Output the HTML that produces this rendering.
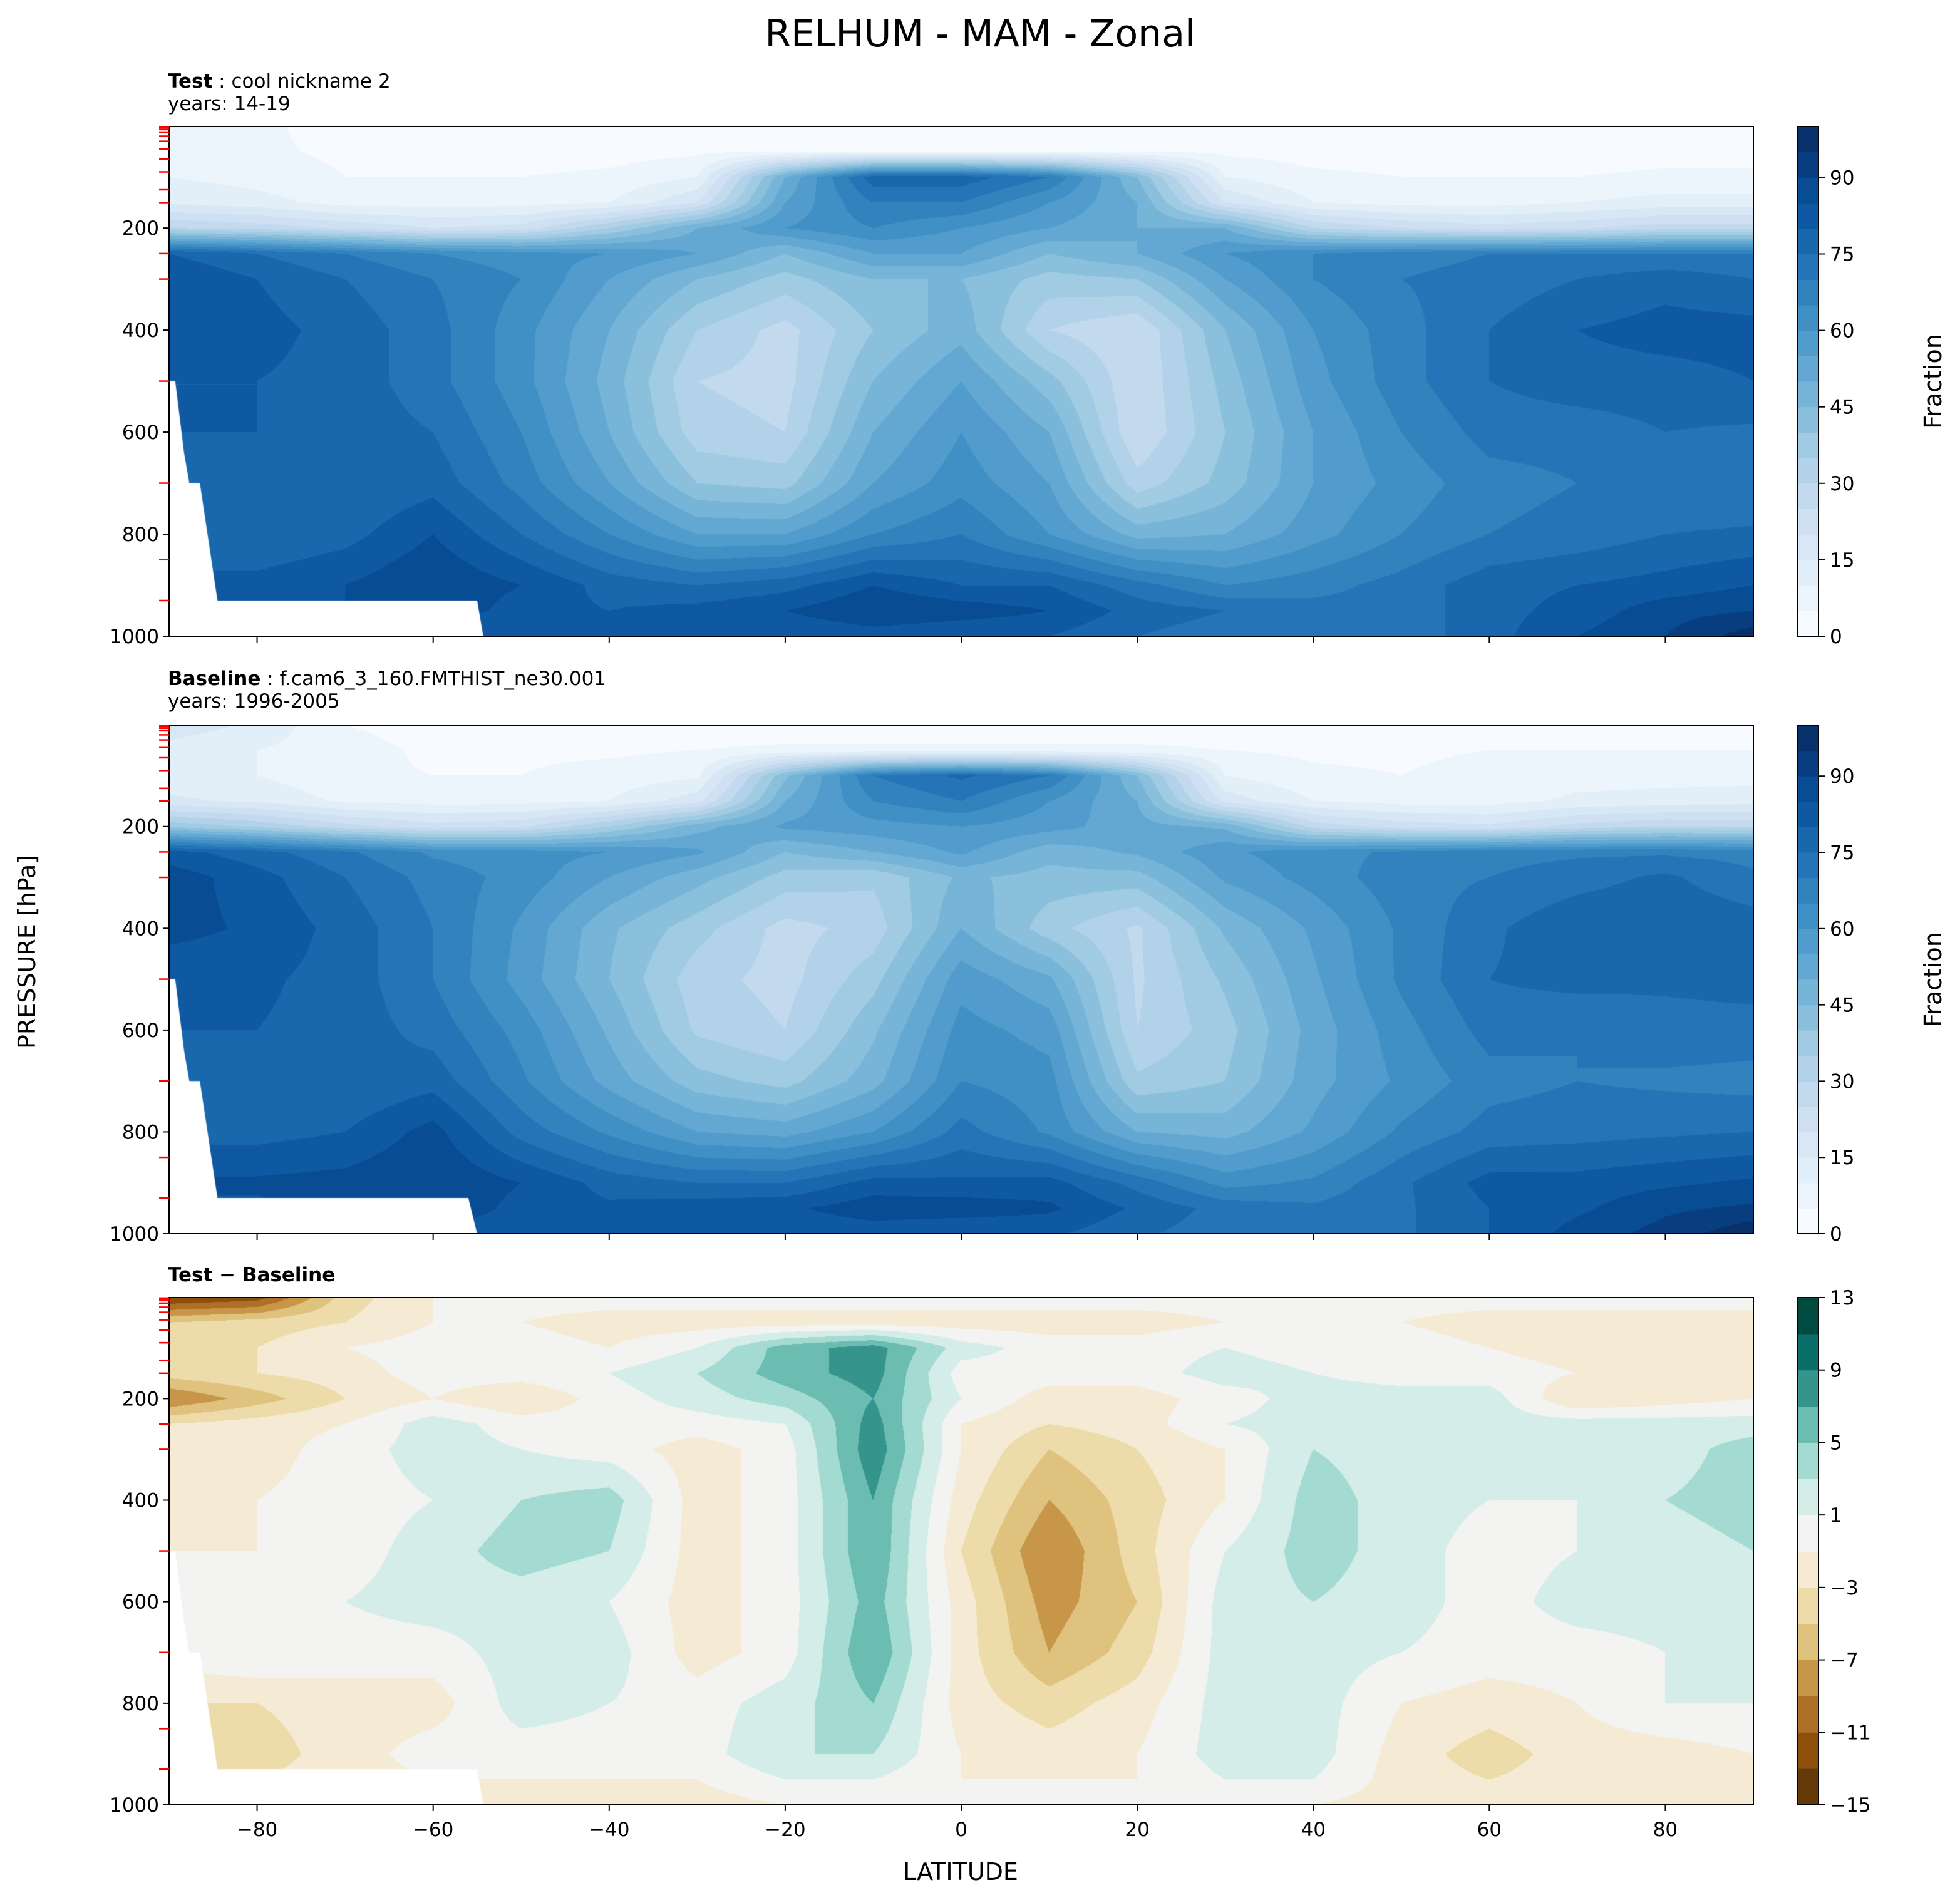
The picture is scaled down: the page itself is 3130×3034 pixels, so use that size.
<!DOCTYPE html>
<html><head><meta charset="utf-8"><style>
body{margin:0;background:#fff;}
#root{position:relative;width:3130px;height:3034px;overflow:hidden;font-family:"DejaVu Sans","Liberation Sans",sans-serif;}
canvas{position:absolute;}
svg{position:absolute;left:0;top:0;font-family:"DejaVu Sans","Liberation Sans",sans-serif;}
</style></head><body>
<div id="root">
<canvas id="c1" width="2530" height="814" style="left:270px;top:202px"></canvas>
<canvas id="c2" width="2530" height="812" style="left:270px;top:1158px"></canvas>
<canvas id="c3" width="2530" height="810" style="left:270px;top:2072px"></canvas>
<svg id="s" width="3130" height="3034"></svg>
</div>
<script>
const lats=[-90,-80,-70,-60,-50,-40,-30,-20,-10,0,10,20,30,40,50,60,70,80,90];
const pres=[1,50,100,150,200,250,300,400,500,600,700,800,900,950,1000];
const testRH=[
[7,6,3,2,2,2,2,2,2,2,2,2,2,2,2,2,2,2,2],
[8,6,4,3,3,3,4,5,5,5,5,5,4,3,3,3,3,3,3],
[10,8,5,5,5,6,10,50,78,78,70,45,10,6,5,5,5,6,6],
[14,12,8,8,8,10,20,55,70,70,60,50,20,10,8,8,10,12,12],
[30,28,24,20,22,35,50,60,65,60,55,50,50,30,25,22,24,28,28],
[80,75,70,65,62,60,55,45,55,55,45,50,60,65,68,70,70,70,70],
[85,80,75,70,65,55,45,38,45,45,38,40,55,65,70,72,75,78,75],
[85,82,78,72,62,50,35,28,40,48,30,25,45,60,68,75,80,82,82],
[80,80,78,72,62,48,30,28,45,55,42,25,42,58,68,75,78,78,80],
[80,80,78,75,65,50,32,30,50,60,50,25,40,55,65,72,72,75,74],
[78,78,75,78,68,55,40,38,55,63,55,32,42,55,62,68,70,70,70],
[75,75,78,85,75,65,55,55,65,70,60,48,50,58,65,70,72,75,76],
[82,82,85,90,85,78,75,78,85,80,80,72,65,68,72,78,80,82,85],
[82,82,85,90,82,80,82,85,90,88,85,78,75,72,72,78,82,88,90],
[80,80,80,80,80,80,80,80,82,80,80,75,72,72,72,78,85,90,98]];
const baseRH=[
[18,14,5,3,2,2,2,2,2,2,2,2,2,2,2,2,2,2,2],
[13,10,7,4,4,4,5,6,6,6,6,6,5,4,4,5,5,5,5],
[12,10,6,5,5,7,9,44,70,76,70,45,10,6,5,7,8,8,8],
[16,14,9,8,8,10,18,50,65,70,60,50,18,10,8,8,11,12,13],
[39,34,27,22,24,35,48,56,58,60,57,52,49,28,23,21,27,30,29],
[82,77,71,64,62,60,56,45,50,56,47,51,59,63,66,68,69,69,68],
[88,82,75,68,63,55,47,38,36,46,43,43,56,62,68,70,73,76,71],
[87,84,78,70,59,46,37,28,32,50,37,29,46,56,66,74,79,79,78],
[81,81,78,70,58,45,32,28,38,58,51,29,41,54,66,75,77,76,77],
[80,80,78,73,63,49,34,30,44,62,58,30,38,52,63,72,70,73,73],
[77,77,75,78,66,53,42,38,48,65,62,36,40,53,61,68,70,69,68],
[78,78,80,87,73,64,55,53,60,72,64,50,48,56,66,72,73,74,75],
[86,86,87,90,85,78,75,75,82,81,82,73,63,66,74,82,82,84,86],
[84,84,86,90,83,81,83,84,88,88,86,79,73,71,74,80,84,89,91],
[82,82,82,82,82,82,82,81,82,80,81,76,72,73,74,80,87,92,99]];
const diffRH=[
[-13,-12,-4,-1,0,0,0,0,0,0,0,0,0,0,0,0,0,0,0],
[-5,-4,-3,-1,-1,-2,-2,-2,-2,-2,-2,-2,-1,-1,-1,-2,-2,-2,-2],
[-3,-3,-1,0,0,-1,1,6,8,2,0,0,1,0,0,-1,-2,-2,-2],
[-4,-3,-2,0,0,1,3,6,8,0,0,0,2,1,0,0,-1,-1,-1],
[-9,-6,-3,-1,-3,0,2,4,7,1,-2,-2,0,2,2,2,-3,-2,-1],
[-3,-2,-1,2,0,0,0,1,8,-1,-3,-2,1,2,2,2,2,2,2],
[-3,-2,0,2,1,0,-2,0,8.5,-1,-5,-3,-1,3,2,2,2,2,4],
[-2,-1,0,1,3,4,-2,0,7,-2,-7,-4,-1,4,2,1,1,3,4],
[-1,-1,0,2,4,3,-2,0,7,-3,-9,-4,1,4,2,0,1,2,3],
[0,0,1,2,2,1,-2,0,6,-2,-8,-5,2,3,2,0,2,2,1],
[0,1,0,0,2,2,-2,0,7,-2,-7,-4,2,2,1,0,0,1,2],
[-3,-3,-2,-2,2,1,0,2,5,-2,-4,-2,2,2,-1,-2,-1,1,1],
[-4,-4,-2,0,0,0,0,3,3,-1,-2,-1,2,2,-2,-4,-2,-2,-1],
[-3,-3,-2,-1,-1,-1,-1,1,1,-1,-1,-1,1,1,-2,-3,-2,-2,-2],
[-2,-2,-2,-2,-2,-2,-2,-1,0,0,-1,-1,0,-1,-2,-2,-2,-2,-2]];
const rhLevels=[0,5,10,15,20,25,30,35,40,45,50,55,60,65,70,75,80,85,90,95,100];
const rhTicks=[0,15,30,45,60,75,90];
const dLevels=[-15,-13,-11,-9,-7,-5,-3,-1,1,3,5,7,9,11,13];
const dTicks=[-15,-11,-7,-3,1,5,9,13];
const xTicks=[-80,-60,-40,-20,0,20,40,60,80];
const yTicks=[200,400,600,800,1000];
const modelLevels=[2,4,7,12,20,30,45,65,90,125,150,250,300,500,700,850,930];
const maskTest=[[-90,500],[-89.3,500],[-88.3,640],[-87.7,700],[-86.5,700],[-84.5,930],[-55,930],[-54.3,1000],[-90,1000]];
const maskBase=[[-90,500],[-89.3,500],[-88.3,640],[-87.7,700],[-86.5,700],[-84.5,930],[-56,930],[-55,1000],[-90,1000]];

const blues=[[247,251,255],[222,235,247],[198,219,239],[158,202,225],[107,174,214],[66,146,198],[33,113,181],[8,81,156],[8,48,107]];
function bluesAt(t){const f=t*8,i=Math.min(7,Math.floor(f)),r=f-i;return blues[i].map((v,k)=>Math.round(v+(blues[i+1][k]-v)*r));}
const rhCols=[];for(let i=0;i<20;i++)rhCols.push(bluesAt(i/19));
const dCols=["#643a09","#8c500b","#ad7024","#c89649","#dfc27d","#eddbaa","#f5ebd5","#f3f4f2","#d4ede8","#a3dbd2","#6bbcb1","#35958d","#0b6e67","#014a3f"].map(h=>[parseInt(h.slice(1,3),16),parseInt(h.slice(3,5),16),parseInt(h.slice(5,7),16)]);

const X0=270,X1=2800,PT=1;
function xS(l){return X0+(l+90)/180*(X1-X0);}
function yS(p,top,bot){return top+(p-PT)/(1000-PT)*(bot-top);}

function interp(grid,lat,p){
  let j=Math.min(17,Math.max(0,Math.floor((lat+90)/10)));let tx=(lat-lats[j])/10;
  let i=0;while(i<13&&p>pres[i+1])i++;let ty=(p-pres[i])/(pres[i+1]-pres[i]);
  const a=grid[i][j],b=grid[i][j+1],c=grid[i+1][j],d=grid[i+1][j+1];
  return (a*(1-tx)+b*tx)*(1-ty)+(c*(1-tx)+d*tx)*ty;
}
function drawField(id,grid,levels,cols,mask){
  const cv=document.getElementById(id),ctx=cv.getContext('2d'),W=cv.width,H=cv.height;
  const img=ctx.createImageData(W,H),D=img.data;
  for(let y=0;y<H;y++){const p=PT+(y+0.5)/H*(1000-PT);
    for(let x=0;x<W;x++){const lat=-90+(x+0.5)/W*180;const v=interp(grid,lat,p);
      let k=0;while(k<cols.length-1&&v>=levels[k+1])k++;const c=cols[k];const o=(y*W+x)*4;
      D[o]=c[0];D[o+1]=c[1];D[o+2]=c[2];D[o+3]=255;}}
  ctx.putImageData(img,0,0);
  ctx.fillStyle='#fff';ctx.beginPath();
  mask.forEach((m,i)=>{const px=(m[0]+90)/180*W,py=(m[1]-PT)/(1000-PT)*H;i?ctx.lineTo(px,py):ctx.moveTo(px,py);});
  ctx.closePath();ctx.fill();
}
drawField('c1',testRH,rhLevels,rhCols,maskTest);
drawField('c2',baseRH,rhLevels,rhCols,maskBase);
drawField('c3',diffRH,dLevels,dCols,maskTest);

const NS='http://www.w3.org/2000/svg',S=document.getElementById('s');
function el(t,a,txt){const e=document.createElementNS(NS,t);for(const k in a)e.setAttribute(k,a[k]);if(txt!==undefined)e.textContent=txt;S.appendChild(e);return e;}

let e=el('text',{x:1565,y:74,'font-size':60,'text-anchor':'middle'},'RELHUM - MAM - Zonal');



const panels=[{top:202,bot:1016,cb:'rh',t1:['Test',' : cool nickname 2'],t2:'years: 14-19',ty:140,name:'test'},
{top:1158,bot:1970,cb:'rh',t1:['Baseline',' : f.cam6_3_160.FMTHIST_ne30.001'],t2:'years: 1996-2005',ty:1094,name:'baseline'},
{top:2072,bot:2882,cb:'d',t1:['Test − Baseline',''],t2:null,ty:2046,name:'diff'}];
panels.forEach((P,pi)=>{
  const t=el('text',{x:268,y:P.ty,'font-size':31});
  
  
  const b=document.createElementNS(NS,'tspan');b.setAttribute('font-weight','bold');b.textContent=P.t1[0];t.appendChild(b);
  const r=document.createElementNS(NS,'tspan');r.textContent=P.t1[1];t.appendChild(r);
  if(P.t2){const t2=el('text',{x:268,y:P.ty+36,'font-size':31},P.t2);
    
    }
  const fr=el('rect',{x:X0,y:P.top,width:X1-X0,height:P.bot-P.top,fill:'none',stroke:'#000','stroke-width':2});
  
  
  yTicks.forEach(v=>{const y=yS(v,P.top,P.bot);el('line',{x1:X0-10,x2:X0,y1:y,y2:y,stroke:'#000','stroke-width':2});
    const l=el('text',{x:X0-16,y:y+11,'font-size':31,'text-anchor':'end'},v);
    
    });
  modelLevels.forEach(v=>{const y=yS(v,P.top,P.bot);el('line',{x1:X0-16,x2:X0,y1:y,y2:y,stroke:'#f00','stroke-width':2.5});});
  xTicks.forEach(v=>{const x=xS(v);el('line',{x1:x,x2:x,y1:P.bot,y2:P.bot+10,stroke:'#000','stroke-width':2});
    if(pi==2){const l=el('text',{x:x,y:P.bot+50,'font-size':31,'text-anchor':'middle'},v<0?'−'+(-v):v);
      
      }});
  const cx=2870,cw=34,levels=P.cb=='rh'?rhLevels:dLevels,cols=P.cb=='rh'?rhCols:dCols,ticks=P.cb=='rh'?rhTicks:dTicks;
  const lo=levels[0],hi=levels[levels.length-1],cy=v=>P.bot-(v-lo)/(hi-lo)*(P.bot-P.top);
  for(let k=0;k<cols.length;k++){const c=cols[k];const r2=el('rect',{x:cx,y:cy(levels[k+1]),width:cw,height:cy(levels[k])-cy(levels[k+1])+0.5,fill:`rgb(${c[0]},${c[1]},${c[2]})`});
    
    }
  el('rect',{x:cx,y:P.top,width:cw,height:P.bot-P.top,fill:'none',stroke:'#000','stroke-width':2});
  ticks.forEach(v=>{const y=cy(v);el('line',{x1:cx+cw,x2:cx+cw+10,y1:y,y2:y,stroke:'#000','stroke-width':2});
    const l=el('text',{x:cx+cw+18,y:y+11,'font-size':31},v<0?'−'+(-v):v);
    
    });
  if(P.cb=='rh'){const m=(P.top+P.bot)/2;const f=el('text',{x:3100,y:m,'font-size':38,'text-anchor':'middle',transform:`rotate(-90 3100 ${m})`},'Fraction');
    
    }
});
e=el('text',{x:56,y:1520,'font-size':38,'text-anchor':'middle',transform:'rotate(-90 56 1520)'},'PRESSURE [hPa]');


e=el('text',{x:1534,y:3002,'font-size':38,'text-anchor':'middle'},'LATITUDE');


</script>
</body></html>
